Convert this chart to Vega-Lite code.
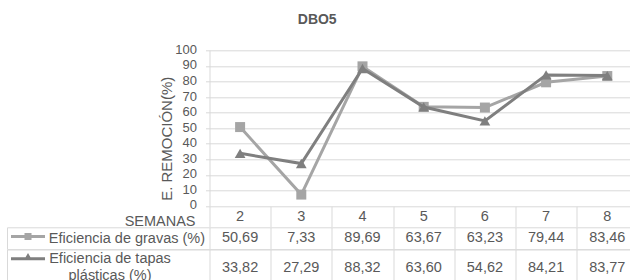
{
  "$schema": "https://vega.github.io/schema/vega-lite/v6.json",
  "padding": {"left": 6.5, "top": 13.3, "right": -8.4, "bottom": -4.7},
  "autosize": {"type": "pad"},
  "config": {
    "font": "Liberation Sans",
    "view": {"stroke": null},
    "locale": {"number": {"decimal": ",", "thousands": ".", "grouping": [3], "currency": ["", ""]}},
    "axis": {"gridColor": "#d9d9d9", "domainColor": "#d9d9d9", "tickColor": "#d9d9d9", "labelColor": "#595959", "titleColor": "#595959", "labelFont": "Liberation Sans", "titleFont": "Liberation Sans"}
  },
  "title": {"text": "DBO5", "anchor": "middle", "frame": "bounds", "fontSize": 14, "fontWeight": "bold", "color": "#595959", "offset": 16, "dx": -5},
  "data": {"values": [
    {"semana": 2, "serie": "Eficiencia de gravas (%)", "valor": 50.69},
    {"semana": 3, "serie": "Eficiencia de gravas (%)", "valor": 7.33},
    {"semana": 4, "serie": "Eficiencia de gravas (%)", "valor": 89.69},
    {"semana": 5, "serie": "Eficiencia de gravas (%)", "valor": 63.67},
    {"semana": 6, "serie": "Eficiencia de gravas (%)", "valor": 63.23},
    {"semana": 7, "serie": "Eficiencia de gravas (%)", "valor": 79.44},
    {"semana": 8, "serie": "Eficiencia de gravas (%)", "valor": 83.46},
    {"semana": 2, "serie": "Eficiencia de tapas plásticas (%)", "valor": 33.82},
    {"semana": 3, "serie": "Eficiencia de tapas plásticas (%)", "valor": 27.29},
    {"semana": 4, "serie": "Eficiencia de tapas plásticas (%)", "valor": 88.32},
    {"semana": 5, "serie": "Eficiencia de tapas plásticas (%)", "valor": 63.60},
    {"semana": 6, "serie": "Eficiencia de tapas plásticas (%)", "valor": 54.62},
    {"semana": 7, "serie": "Eficiencia de tapas plásticas (%)", "valor": 84.21},
    {"semana": 8, "serie": "Eficiencia de tapas plásticas (%)", "valor": 83.77}
  ]},
  "spacing": 0,
  "bounds": "flush",
  "resolve": {"scale": {"shape": "independent"}, "legend": {"shape": "independent"}},
  "vconcat": [
    {
      "width": 428.4,
      "height": 155.7,
      "encoding": {
        "x": {"field": "semana", "type": "ordinal", "scale": {"type": "band", "paddingInner": 0, "paddingOuter": 0}, "axis": null},
        "y": {"field": "valor", "type": "quantitative", "scale": {"domain": [0, 100]},
          "axis": {"values": [0, 10, 20, 30, 40, 50, 60, 70, 80, 90, 100], "grid": true, "tickSize": 4, "labelFontSize": 13, "labelPadding": 9, "labelOffset": -1,
            "title": "E. REMOCIÓN(%)", "titleFontSize": 15, "titleFontWeight": "normal", "titleX": -43.5, "titleY": 88, "titleBaseline": "middle", "titleAlign": "center", "titleAngle": -90}}
      },
      "layer": [
        {"transform": [{"filter": "datum.serie === 'Eficiencia de gravas (%)'"}],
         "mark": {"type": "line", "color": "#a5a5a5", "strokeWidth": 3, "point": {"filled": true, "shape": "square", "size": 100, "color": "#a5a5a5", "opacity": 1}}},
        {"transform": [{"filter": "datum.serie !== 'Eficiencia de gravas (%)'"}],
         "mark": {"type": "line", "color": "#7f7f7f", "strokeWidth": 3, "point": {"filled": true, "shape": "triangle-up", "size": 115, "color": "#7f7f7f", "opacity": 1}}}
      ]
    },
    {
      "width": 428.4,
      "height": 20.3,
      "transform": [{"filter": "datum.serie === 'Eficiencia de gravas (%)'"}],
      "mark": {"type": "text", "fontSize": 14.5, "color": "#595959", "dy": 1},
      "encoding": {
        "x": {"field": "semana", "type": "ordinal", "scale": {"type": "band", "paddingInner": 0, "paddingOuter": 0},
          "axis": {"orient": "bottom", "tickBand": "extent", "grid": true, "labels": false, "ticks": false, "domain": false,
            "title": "SEMANAS", "titleX": -14.5, "titleY": -5, "titleAlign": "right", "titleBaseline": "middle", "titleFontSize": 14.5, "titleFontWeight": "normal"}},
        "text": {"field": "semana", "type": "ordinal"}
      }
    },
    {
      "width": 428.4,
      "height": 21.5,
      "transform": [{"filter": "datum.serie === 'Eficiencia de gravas (%)'"}],
      "encoding": {
        "x": {"field": "semana", "type": "ordinal", "scale": {"type": "band", "paddingInner": 0, "paddingOuter": 0},
          "axis": {"orient": "bottom", "tickBand": "extent", "grid": true, "labels": false, "ticks": false, "domain": false, "title": null}},
        "y": {"field": "serie", "type": "nominal", "scale": {"type": "band", "paddingInner": 0, "paddingOuter": 0},
          "axis": {"orient": "left", "offset": 202.5, "tickBand": "extent", "grid": true, "ticks": true, "tickSize": -202.5, "domain": true,
            "labelAlign": "left", "labelBaseline": "middle", "labelPadding": 161.2, "labelFontSize": 14.5, "labelLimit": 400, "title": null}}
      },
      "layer": [
        {"mark": {"type": "text", "fontSize": 14.5, "color": "#595959"},
         "encoding": {"text": {"field": "valor", "type": "quantitative", "format": ".2f"}}},
        {"transform": [{"filter": "false"}],
         "mark": {"type": "point", "filled": true, "opacity": 1, "color": "#a5a5a5"},
         "encoding": {"shape": {"field": "serie", "type": "nominal",
           "scale": {"domain": ["Eficiencia de gravas (%)"], "range": ["M-4.25,-0.375H4.25V0.375H-4.25ZM-0.875,-0.875H0.875V0.875H-0.875Z"]},
           "legend": {"orient": "none", "legendX": -185.5, "legendY": 5.2, "title": null, "labelExpr": "''", "labelFontSize": 6, "symbolSize": 64, "symbolStrokeWidth": 0, "symbolOpacity": 1, "symbolFillColor": "#a5a5a5", "padding": 0}}}}
      ]
    },
    {
      "width": 428.4,
      "height": 38.4,
      "transform": [{"filter": "datum.serie !== 'Eficiencia de gravas (%)'"}],
      "encoding": {
        "x": {"field": "semana", "type": "ordinal", "scale": {"type": "band", "paddingInner": 0, "paddingOuter": 0},
          "axis": {"orient": "bottom", "tickBand": "extent", "grid": true, "labels": false, "ticks": false, "domain": false, "title": null}},
        "y": {"field": "serie", "type": "nominal", "scale": {"type": "band", "paddingInner": 0, "paddingOuter": 0},
          "axis": {"orient": "left", "offset": 202.5, "tickBand": "extent", "grid": true, "ticks": true, "tickSize": -202.5, "domain": true,
            "labelAlign": "center", "labelBaseline": "middle", "labelPadding": 100, "labelFontSize": 14.5, "labelLimit": 400, "title": null,
            "labelLineHeight": 17, "labelOffset": -9.5,
            "labelExpr": "[substring(datum.label, 0, 19), substring(datum.label, 20)]"}}
      },
      "layer": [
        {"mark": {"type": "text", "fontSize": 14.5, "color": "#595959"},
         "encoding": {"text": {"field": "valor", "type": "quantitative", "format": ".2f"}}},
        {"transform": [{"filter": "false"}],
         "mark": {"type": "point", "filled": true, "opacity": 1, "color": "#7f7f7f"},
         "encoding": {"shape": {"field": "serie", "type": "nominal",
           "scale": {"domain": ["Eficiencia de tapas plásticas (%)"], "range": ["M-4.25,-0.375H4.25V0.375H-4.25ZM0,-1.425L1.04,0.375L-1.04,0.375Z"]},
           "legend": {"orient": "none", "legendX": -185.5, "legendY": 5.4, "title": null, "labelExpr": "''", "labelFontSize": 6, "symbolSize": 64, "symbolStrokeWidth": 0, "symbolOpacity": 1, "symbolFillColor": "#7f7f7f", "padding": 0}}}}
      ]
    }
  ]
}
